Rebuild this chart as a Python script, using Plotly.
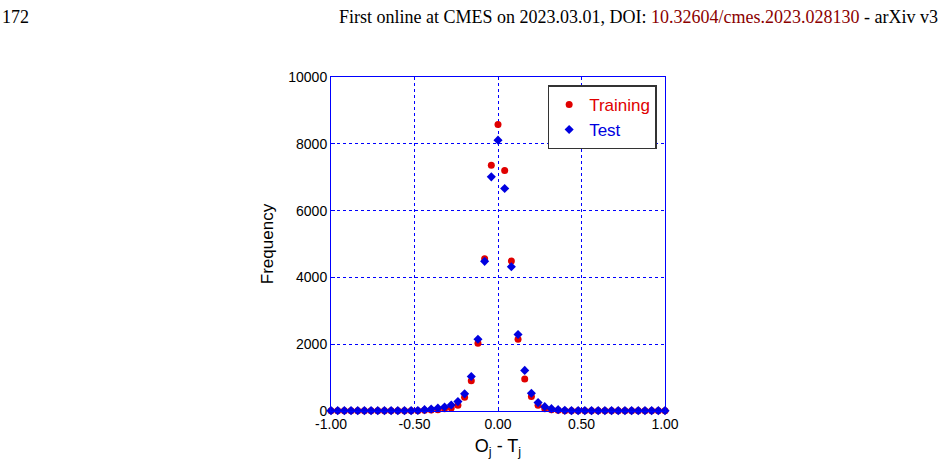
import plotly.graph_objects as go

bins = [round(-1.0 + 0.04 * i, 2) for i in range(51)]
training = [10, 10, 10, 10, 10, 10, 10, 10, 10, 10,
            10, 10, 10, 10, 20, 30, 40, 70, 90, 171,
            412, 905, 2030, 4560, 7360, 8580, 7200, 4490, 2150, 955,
            432, 171, 70, 40, 20, 10, 10, 10, 10, 10,
            10, 10, 10, 10, 10, 10, 10, 10, 10, 10, 10]
test = [10, 10, 10, 10, 10, 10, 10, 10, 10, 10,
        10, 10, 10, 15, 40, 60, 90, 120, 181, 281,
        513, 1035, 2150, 4480, 7010, 8110, 6660, 4320, 2290, 1216,
        533, 251, 130, 70, 40, 20, 10, 10, 10, 10,
        10, 10, 10, 10, 10, 10, 10, 10, 10, 10, 10]

x_ticks = [-1.0, -0.5, 0.0, 0.5, 1.0]
x_tick_text = ["-1.00", "-0.50", "0.00", "0.50", "1.00"]
y_ticks = [0, 2000, 4000, 6000, 8000, 10000]
y_tick_text = ["0", "2000", "4000", "6000", "8000", "10000"]

fig = go.Figure()
fig.add_trace(go.Scatter(x=bins, y=training, mode="markers",
                         name="<span style='color:#e00000'>Training</span>",
                         marker=dict(symbol="circle", size=7, color="#e00000"),
                         cliponaxis=False))
fig.add_trace(go.Scatter(x=bins, y=test, mode="markers",
                         name="<span style='color:#0000e0'>Test</span>",
                         marker=dict(symbol="diamond", size=7, color="#0000e0"),
                         cliponaxis=False))

axis_common = dict(showline=True, linecolor="#0000ff", linewidth=1, mirror=True,
                   showgrid=True, gridcolor="#0000ff", griddash="dot", gridwidth=1,
                   zeroline=False, ticks="inside", ticklen=4, tickcolor="#0000ff",
                   tickfont=dict(family="Liberation Sans, Arial", size=14, color="black"))

fig.update_xaxes(range=[-1, 1], tickvals=x_ticks, ticktext=x_tick_text,
                 title=dict(text="O<sub>j</sub> - T<sub>j</sub>",
                            font=dict(family="Liberation Sans, Arial", size=18, color="black"),
                            standoff=8),
                 **axis_common)
fig.update_yaxes(range=[0, 10000], tickvals=y_ticks, ticktext=y_tick_text,
                 title=dict(text="Frequency",
                            font=dict(family="Liberation Sans, Arial", size=17, color="black"),
                            standoff=10),
                 **axis_common)

fig.update_layout(
    width=945, height=470,
    margin=dict(l=331, r=280, t=77, b=59),
    paper_bgcolor="white", plot_bgcolor="white",
    showlegend=True,
    legend=dict(x=0.975, y=0.975, xanchor="right", yanchor="top",
                bordercolor="#333333", borderwidth=1.5, bgcolor="white",
                font=dict(family="Liberation Sans, Arial", size=17),
                itemwidth=30, tracegroupgap=0),
    annotations=[
        dict(text="172", xref="paper", yref="paper", x=-331/334, y=1 + 60/334,
             xanchor="left", yanchor="middle", showarrow=False,
             font=dict(family="Liberation Serif, Times New Roman", size=18, color="black")),
        dict(text="First online at CMES on 2023.03.01, DOI: <span style='color:#8b0000'>10.32604/cmes.2023.028130</span> - arXiv v3",
             xref="paper", yref="paper", x=1 + 275/334, y=1 + 60/334,
             xanchor="right", yanchor="middle", showarrow=False,
             font=dict(family="Liberation Serif, Times New Roman", size=18, color="black")),
    ],
)

fig.write_html("out.html")
